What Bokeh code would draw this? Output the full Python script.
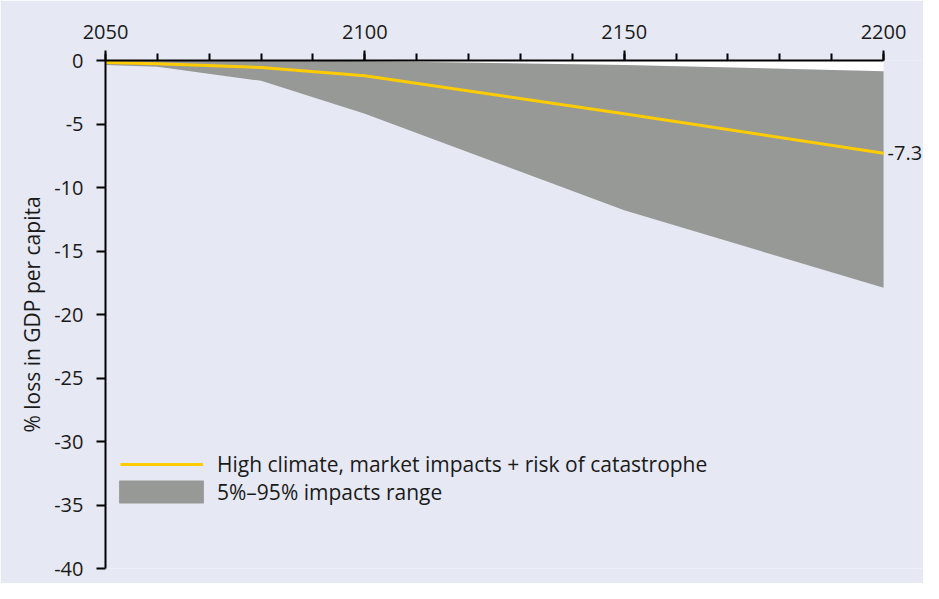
from bokeh.plotting import figure
from bokeh.models import (Range1d, LinearAxis, SingleIntervalTicker, Legend, LegendItem,
                          ColumnDataSource, PrintfTickFormatter)
from bokeh.core.properties import value
from bokeh.embed import file_html
from bokeh.resources import INLINE

# ---- data ----
years = [2050, 2060, 2080, 2100, 2150, 2200]
mean_loss = [-0.15, -0.25, -0.55, -1.2, -4.2, -7.3]
upper_bound = [0.0, 0.0, 0.0, -0.05, -0.35, -0.85]
lower_bound = [-0.35, -0.5, -1.6, -4.2, -11.8, -17.9]
zero_line = [0.0] * len(years)

line_label = "High climate, market impacts + risk of catastrophe"
range_label = "5%\u201395% impacts range"
y_title = "% loss in GDP per capita"

BG = "#E6E9F3"
GRAY = "#979997"
YELLOW = "#FFCC00"
FONT = "Open Sans"
TXT = "#1a1a1a"

src = ColumnDataSource(dict(x=years, mean=mean_loss, up=upper_bound, lo=lower_bound, zero=zero_line))

p = figure(width=923, height=583, output_backend="svg", toolbar_location=None,
           x_range=Range1d(2050, 2207.7), y_range=Range1d(-40, 0),
           x_axis_location=None, y_axis_location=None,
           min_border_left=105, min_border_right=0, min_border_top=60, min_border_bottom=15)
p.background_fill_color = BG
p.border_fill_color = BG
p.outline_line_color = None
p.xgrid.visible = False
p.ygrid.visible = False

white = p.varea(x="x", y1="zero", y2="up", source=src, fill_color="white")
band = p.varea(x="x", y1="up", y2="lo", source=src, fill_color=GRAY)
ln = p.line(x="x", y="mean", source=src, line_color=YELLOW, line_width=3)

p.text(x=[years[-1]], y=[mean_loss[-1]], text=[f"{mean_loss[-1]}"], x_offset=4,
       text_font=value(FONT), text_font_size="20px", text_baseline="middle",
       text_align="left", text_color=TXT)

# top axis
xa = LinearAxis(ticker=SingleIntervalTicker(interval=50, num_minor_ticks=5), bounds=(2050, 2200))
xa.axis_line_color = "black"
xa.axis_line_width = 2
xa.major_tick_line_width = 2
xa.minor_tick_line_width = 2
xa.major_tick_out = 10
xa.major_tick_in = 0
xa.minor_tick_out = 7
xa.minor_tick_in = 0
xa.major_label_text_font = FONT
xa.major_label_text_font_size = "20px"
xa.major_label_text_color = TXT
xa.major_label_standoff = 12
p.add_layout(xa, "above")

# left axis
ya = LinearAxis(ticker=SingleIntervalTicker(interval=5, num_minor_ticks=0), bounds=(-40, 0),
                formatter=PrintfTickFormatter(format="%d"))
ya.axis_line_color = "black"
ya.axis_line_width = 2
ya.major_tick_line_width = 2
ya.major_tick_out = 9
ya.major_tick_in = 0
ya.minor_tick_line_color = None
ya.major_label_text_font = FONT
ya.major_label_text_font_size = "20px"
ya.major_label_text_color = TXT
ya.major_label_standoff = 13
ya.axis_label = y_title
ya.axis_label_text_font = FONT
ya.axis_label_text_font_size = "21px"
ya.axis_label_text_font_style = "normal"
ya.axis_label_text_color = TXT
ya.axis_label_standoff = 5
p.add_layout(ya, "left")

common = dict(orientation="vertical", padding=0, margin=0, spacing=0,
              background_fill_alpha=0, border_line_alpha=0,
              label_text_font=FONT, label_text_font_size="21px", label_text_color=TXT)

leg_line = Legend(items=[LegendItem(label=line_label, renderers=[ln])],
                  location=(15, 90), glyph_width=83, glyph_height=28, label_height=28,
                  label_standoff=14, **common)
leg_band = Legend(items=[LegendItem(label=range_label, renderers=[band])],
                  location=(3, 62), glyph_width=106, glyph_height=29, label_height=29,
                  label_standoff=3, **common)
p.add_layout(leg_line, "center")
p.add_layout(leg_band, "center")

open("out.html", "w").write(file_html(p, INLINE))
